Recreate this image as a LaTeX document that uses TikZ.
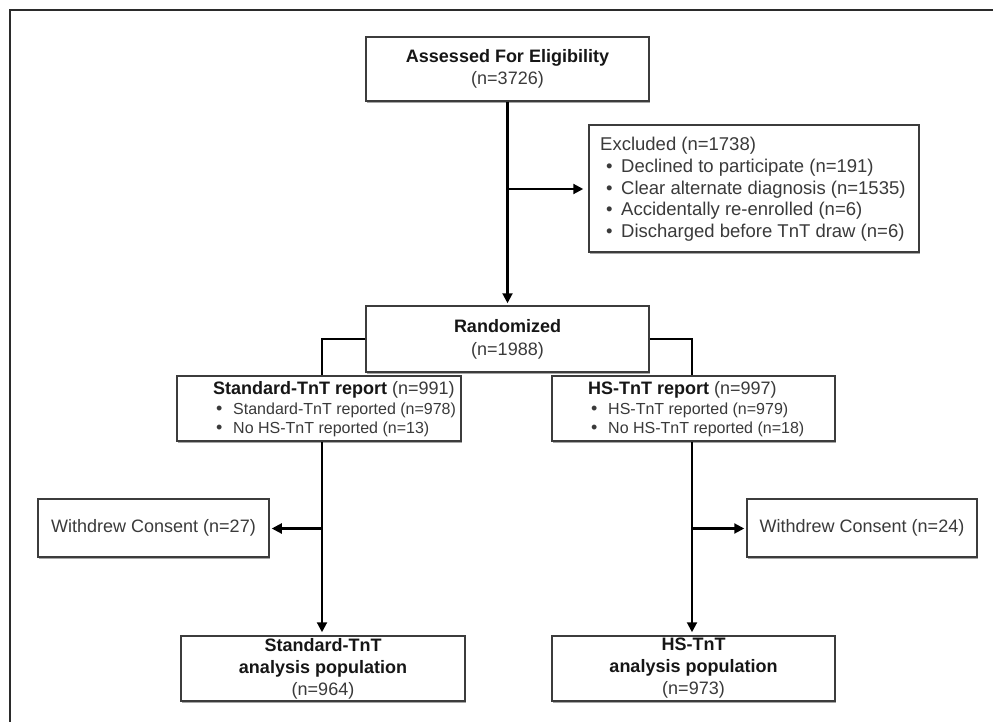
\documentclass[tikz,border=0pt]{standalone}
\usepackage{fontspec}
\setmainfont{Liberation Sans}
\usetikzlibrary{arrows.meta,shadows,calc}
\definecolor{txt}{HTML}{3A3A3A}
\definecolor{boldc}{HTML}{161616}
\definecolor{boxc}{HTML}{3C3C3C}
\definecolor{framec}{HTML}{2B2B2B}
\newcommand\bul{\hspace*{6pt}\makebox[15pt][l]{•}}
\newcommand\sbul{\hspace*{3pt}\makebox[17pt][l]{\fontsize{18}{19.5}\selectfont•}}
\begin{document}
\begin{tikzpicture}[x=1pt,y=-1pt,
  box/.style={draw=boxc, line width=1.5pt, fill=white, inner sep=0pt,
    drop shadow={shadow xshift=1.2pt,shadow yshift=-1.6pt,fill=black,opacity=0.35}},
  ctext/.style={align=center, text=txt, font=\fontsize{18}{22}\selectfont},
  ltext/.style={anchor=west, align=left, inner sep=0pt, text=txt},
  conn/.style={line width=2.1pt, draw=black},
  arr/.style={conn, -{Triangle[length=10pt,width=10pt]}, shorten >=2pt}]
\useasboundingbox (0,0) rectangle (993,722);
\draw[line width=2.6pt, draw=framec] (10,10) rectangle (1030,760);

% boxes
\node[box, ctext, minimum width=283pt, minimum height=64pt] (assess) at (507.5,69)
  {\textbf{\color{boldc}Assessed For Eligibility}\\(n=3726)};
\node[box, minimum width=330pt, minimum height=127pt] (excl) at (754,188.5) {};
\node[ltext, font=\fontsize{18.5}{21.7}\selectfont] (excltxt) at (600,189.5)
  {Excluded (n=1738)\\
   \bul Declined to participate (n=191)\\
   \bul Clear alternate diagnosis (n=1535)\\
   \bul Accidentally re-enrolled (n=6)\\
   \bul Discharged before TnT draw (n=6)};
\node[box, ctext, minimum width=283pt, minimum height=66pt, font=\fontsize{18}{23}\selectfont] (rand) at (507.5,339)
  {\textbf{\color{boldc}Randomized}\\(n=1988)};

\node[box, minimum width=284pt, minimum height=65pt] (stdrep) at (319,408.5) {};
\node[ltext, font=\fontsize{16}{19.5}\selectfont] (stdreptxt) at (213,409.5)
  {{\fontsize{18}{19.5}\selectfont\textbf{\color{boldc}Standard-TnT report} (n=991)}\\
   \sbul Standard-TnT reported (n=978)\\
   \sbul No HS-TnT reported (n=13)};
\node[box, minimum width=283pt, minimum height=65pt] (hsrep) at (693.5,408.5) {};
\node[ltext, font=\fontsize{16}{19.5}\selectfont] (hsreptxt) at (588,409.5)
  {{\fontsize{18}{19.5}\selectfont\textbf{\color{boldc}HS-TnT report} (n=997)}\\
   \sbul HS-TnT reported (n=979)\\
   \sbul No HS-TnT reported (n=18)};

\node[box, ctext, minimum width=231pt, minimum height=58pt] (wl) at (153.5,528)
  {Withdrew Consent (n=27)};
\node[box, ctext, minimum width=230pt, minimum height=58pt] (wr) at (862,528)
  {Withdrew Consent (n=24)};

\node[box, ctext, minimum width=284pt, minimum height=65pt] (stda) at (323,668.5)
  {\textbf{\color{boldc}Standard-TnT}\\\textbf{\color{boldc}analysis population}\\(n=964)};
\node[box, ctext, minimum width=283pt, minimum height=65pt] (hsa) at (693.5,668.5)
  {\textbf{\color{boldc}HS-TnT}\\\textbf{\color{boldc}analysis population}\\(n=973)};

% connectors
\draw[arr] (assess.south) -- (rand.north);
\coordinate (exb) at (507.5,189);
\draw[arr, shorten >=5pt] (exb) -- (exb -| excl.west);
\draw[conn] (rand.west) -| ([xshift=3pt]stdrep.north);
\draw[conn] (rand.east) -| ([xshift=-1.5pt]hsrep.north);
\draw[arr, shorten >=3pt] ([xshift=3pt]stdrep.south) -- ([xshift=-1pt]stda.north);
\draw[arr, shorten >=3pt] ([xshift=-1.5pt]hsrep.south) -- ([xshift=-1.5pt]hsa.north);
\coordinate (wlb) at (322,528.5);
\draw[arr] (wlb) -- (wlb -| wl.east);
\coordinate (wrb) at (692,528.5);
\draw[arr] (wrb) -- (wrb -| wr.west);
\end{tikzpicture}
\end{document}
